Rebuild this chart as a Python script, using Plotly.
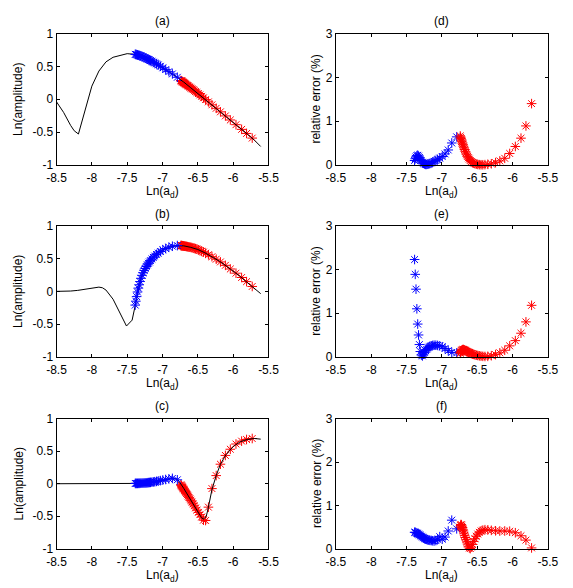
import plotly.graph_objects as go

# ---------------- data ----------------
x_ticks = [-8.5, -8, -7.5, -7, -6.5, -6, -5.5]
x_tick_text = ["-8.5", "-8", "-7.5", "-7", "-6.5", "-6", "-5.5"]
amp_ticks = [-1, -0.5, 0, 0.5, 1]
amp_tick_text = ["-1", "-0.5", "0", "0.5", "1"]
err_ticks = [0, 1, 2, 3]
err_tick_text = ["0", "1", "2", "3"]
panel_titles = ["(a)", "(b)", "(c)", "(d)", "(e)", "(f)"]
x_label = "Ln(a<sub>d</sub>)"
amp_label = "Ln(amplitude)"
err_label = "relative error (%)"

# sample positions (blue = first branch, red = second branch)
bx = [-7.386, -7.377, -7.366, -7.354, -7.342, -7.33, -7.318, -7.305, -7.29, -7.275,
      -7.26, -7.245, -7.23, -7.215, -7.20, -7.185, -7.17, -7.15, -7.13, -7.11,
      -7.085, -7.06, -7.03, -6.995, -6.955, -6.91, -6.86, -6.79]
rx = [-6.74, -6.735, -6.729, -6.723, -6.717, -6.71, -6.703, -6.695, -6.687, -6.678,
      -6.669, -6.659, -6.648, -6.637, -6.625, -6.612, -6.598, -6.583, -6.567, -6.55,
      -6.532, -6.513, -6.492, -6.47, -6.446, -6.42, -6.39, -6.35, -6.30, -6.24,
      -6.18, -6.11, -6.04, -5.96, -5.88, -5.81, -5.73]

# panel (a)
a_blue = [0.685, 0.683, 0.680, 0.676, 0.672, 0.668, 0.664, 0.659, 0.652, 0.645,
          0.638, 0.630, 0.622, 0.614, 0.606, 0.598, 0.589, 0.578, 0.566, 0.554,
          0.539, 0.523, 0.503, 0.479, 0.452, 0.421, 0.386, 0.335]
a_red = [0.285, 0.281, 0.276, 0.271, 0.267, 0.261, 0.255, 0.249, 0.243, 0.235,
         0.228, 0.220, 0.211, 0.203, 0.193, 0.183, 0.171, 0.159, 0.147, 0.133,
         0.118, 0.103, 0.086, 0.066, 0.045, 0.022, -0.005, -0.040, -0.085, -0.138,
         -0.192, -0.254, -0.316, -0.388, -0.459, -0.521, -0.592]
a_line_x = [-8.5, -8.4, -8.3, -8.25, -8.19, -8.1, -8.0, -7.9, -7.8, -7.7, -7.6, -7.5,
            -7.4, -7.3, -7.2, -7.1, -7.0, -6.9, -6.8, -6.7, -6.6, -6.5, -6.4, -6.3,
            -6.2, -6.1, -6.0, -5.9, -5.8, -5.7, -5.61]
a_line_y = [-0.04, -0.20, -0.40, -0.48, -0.53, -0.17, 0.20, 0.43, 0.57, 0.64, 0.67, 0.695,
            0.685, 0.66, 0.606, 0.547, 0.483, 0.414, 0.342, 0.262, 0.175, 0.087, 0.008, -0.080,
            -0.169, -0.258, -0.348, -0.438, -0.53, -0.623, -0.72]

# panel (b)
b_blue = [-0.21, -0.15, -0.08, -0.01, 0.05, 0.10, 0.15, 0.20, 0.245, 0.285,
          0.32, 0.35, 0.38, 0.405, 0.43, 0.45, 0.47, 0.495, 0.52, 0.54,
          0.565, 0.585, 0.61, 0.635, 0.655, 0.675, 0.69, 0.70]
b_red = [0.700, 0.700, 0.699, 0.698, 0.697, 0.696, 0.694, 0.693, 0.691, 0.690,
         0.688, 0.686, 0.684, 0.681, 0.679, 0.676, 0.674, 0.669, 0.663, 0.657,
         0.651, 0.645, 0.636, 0.626, 0.614, 0.601, 0.584, 0.560, 0.530, 0.492,
         0.450, 0.398, 0.342, 0.278, 0.212, 0.149, 0.075]
b_line_x = [-8.5, -8.4, -8.3, -8.2, -8.1, -8.0, -7.9, -7.85, -7.8, -7.7, -7.6, -7.51,
            -7.43, -7.386, -7.3, -7.2, -7.1, -7.0, -6.9, -6.8, -6.7, -6.6, -6.5, -6.4,
            -6.3, -6.2, -6.1, -6.0, -5.9, -5.8, -5.7, -5.61]
b_line_y = [0.0, 0.0, 0.005, 0.015, 0.03, 0.05, 0.065, 0.055, 0.02, -0.12, -0.33, -0.53,
            -0.44, -0.21, 0.22, 0.43, 0.55, 0.63, 0.678, 0.698, 0.696, 0.673, 0.64, 0.59,
            0.53, 0.465, 0.39, 0.31, 0.228, 0.135, 0.045, -0.035]

# panel (c)
c_blue = [0.005, 0.005, 0.005, 0.005, 0.006, 0.006, 0.007, 0.008, 0.009, 0.010,
          0.011, 0.012, 0.013, 0.015, 0.017, 0.019, 0.021, 0.024, 0.027, 0.031,
          0.036, 0.041, 0.048, 0.056, 0.065, 0.075, 0.082, 0.06]
c_red = [-0.015, -0.025, -0.035, -0.045, -0.055, -0.067, -0.079, -0.092, -0.105, -0.12,
         -0.135, -0.152, -0.17, -0.19, -0.21, -0.232, -0.256, -0.282, -0.31, -0.34,
         -0.372, -0.405, -0.44, -0.475, -0.51, -0.56, -0.565, -0.36, -0.075, 0.125,
         0.30, 0.435, 0.53, 0.61, 0.655, 0.68, 0.695]
c_line_x = [-8.5, -8.0, -7.5, -7.4, -7.3, -7.2, -7.1, -7.0, -6.9, -6.84, -6.78, -6.74,
            -6.7, -6.6, -6.5, -6.45, -6.42, -6.38, -6.35, -6.3, -6.24, -6.18, -6.1, -6.0,
            -5.9, -5.8, -5.7, -5.61]
c_line_y = [0.0, 0.0, 0.0, 0.0, 0.005, 0.015, 0.03, 0.05, 0.075, 0.085, 0.06, -0.015,
            -0.07, -0.25, -0.43, -0.52, -0.545, -0.50, -0.36, -0.09, 0.125, 0.30, 0.45, 0.57,
            0.645, 0.68, 0.695, 0.685]

# panel (d)
d_blue = [0.10, 0.14, 0.18, 0.21, 0.22, 0.20, 0.17, 0.13, 0.09, 0.06,
          0.035, 0.02, 0.01, 0.01, 0.015, 0.02, 0.03, 0.045, 0.06, 0.08,
          0.10, 0.125, 0.155, 0.19, 0.25, 0.34, 0.50, 0.64]
d_red = [0.66, 0.63, 0.60, 0.57, 0.54, 0.50, 0.47, 0.43, 0.39, 0.35,
         0.31, 0.27, 0.23, 0.195, 0.16, 0.13, 0.10, 0.075, 0.055, 0.04,
         0.027, 0.017, 0.009, 0.004, 0.002, 0.002, 0.005, 0.012, 0.025, 0.05,
         0.09, 0.15, 0.26, 0.42, 0.61, 0.89, 1.40]

# panel (e)
e_blue = [2.23, 1.89, 1.55, 1.10, 0.75, 0.50, 0.28, 0.12, 0.04, 0.02,
          0.06, 0.10, 0.14, 0.17, 0.20, 0.22, 0.24, 0.25, 0.26, 0.265,
          0.265, 0.26, 0.25, 0.23, 0.19, 0.14, 0.10, 0.09]
e_red = [0.08, 0.10, 0.12, 0.14, 0.15, 0.16, 0.165, 0.165, 0.16, 0.155,
         0.145, 0.135, 0.125, 0.115, 0.105, 0.095, 0.085, 0.075, 0.065, 0.055,
         0.045, 0.037, 0.03, 0.022, 0.015, 0.01, 0.007, 0.01, 0.025, 0.05,
         0.09, 0.15, 0.25, 0.37, 0.54, 0.80, 1.18]

# panel (f)
f_blue = [0.38, 0.38, 0.37, 0.36, 0.35, 0.34, 0.32, 0.31, 0.29, 0.27,
          0.255, 0.24, 0.225, 0.215, 0.205, 0.20, 0.195, 0.19, 0.185, 0.18,
          0.19, 0.22, 0.28, 0.22, 0.27, 0.41, 0.66, 0.46]
f_red = [0.50, 0.54, 0.56, 0.55, 0.52, 0.49, 0.45, 0.41, 0.36, 0.31,
         0.26, 0.21, 0.16, 0.11, 0.06, 0.02, 0.005, 0.04, 0.10, 0.17,
         0.23, 0.29, 0.34, 0.38, 0.41, 0.43, 0.44, 0.435, 0.425, 0.415,
         0.41, 0.41, 0.405, 0.37, 0.30, 0.20, 0.02]

# ---------------- figure ----------------
W, H = 573, 588
FONT = "Liberation Sans, Arial, Helvetica, sans-serif"
BLUE = "rgb(0,0,255)"
RED = "rgb(255,0,0)"

col_px = [(48.3, 268.3), (338.3, 558.3)]
row_px = [(27.3, 161.7), (224.3, 358.3), (421.7, 555.0)]


def xdom(c):
    return [col_px[c][0] / W, col_px[c][1] / W]


def ydom(r):
    return [1 - row_px[r][1] / H, 1 - row_px[r][0] / H]


fig = go.Figure()


def star(x, y, color, ax):
    return go.Scatter(x=x, y=y, mode="markers", xaxis="x" + ax, yaxis="y" + ax,
                      cliponaxis=False, showlegend=False, hoverinfo="skip",
                      marker=dict(symbol="asterisk-open", size=8, color=color,
                                  line=dict(color=color, width=1)))


def line(x, y, ax):
    return go.Scatter(x=x, y=y, mode="lines", xaxis="x" + ax, yaxis="y" + ax,
                      showlegend=False, hoverinfo="skip",
                      line=dict(color="black", width=1))


left = [(a_blue, a_red, a_line_x, a_line_y),
        (b_blue, b_red, b_line_x, b_line_y),
        (c_blue, c_red, c_line_x, c_line_y)]
right = [(d_blue, d_red), (e_blue, e_red), (f_blue, f_red)]

for r in range(3):
    ax = str(r + 1)
    by, ry, lx, ly = left[r]
    fig.add_trace(star(rx, ry, RED, ax))
    fig.add_trace(line(lx, ly, ax))
    fig.add_trace(star(bx, by, BLUE, ax))
for r in range(3):
    ax = str(r + 4)
    by, ry = right[r]
    fig.add_trace(star(bx, by, BLUE, ax))
    fig.add_trace(star(rx, ry, RED, ax))

axis_common = dict(showline=True, linecolor="black", linewidth=1, mirror="ticks",
                   ticks="inside", ticklen=3, tickwidth=1, tickcolor="black",
                   showgrid=False, zeroline=False,
                   tickfont=dict(family=FONT, size=12, color="black"))

layout = dict(width=W, height=H, margin=dict(l=0, r=0, t=0, b=0),
              paper_bgcolor="white", plot_bgcolor="white", showlegend=False,
              font=dict(family=FONT, size=12, color="black"))
annotations = []
for i in range(6):
    c = 0 if i < 3 else 1
    r = i % 3
    n = str(i + 1)
    layout["xaxis" + n] = dict(axis_common, domain=xdom(c), anchor="y" + n,
                               range=[-8.5, -5.5], tickvals=x_ticks, ticktext=x_tick_text,
                               ticklabelstandoff=2)
    if c == 0:
        layout["yaxis" + n] = dict(axis_common, domain=ydom(r), anchor="x" + n,
                                   range=[-1, 1], tickvals=amp_ticks, ticktext=amp_tick_text)
    else:
        layout["yaxis" + n] = dict(axis_common, domain=ydom(r), anchor="x" + n,
                                   range=[0, 3], tickvals=err_ticks, ticktext=err_tick_text)
    cx = (col_px[c][0] + col_px[c][1]) / 2
    top, bot = row_px[r]
    annotations.append(dict(text=panel_titles[r + 3 * c], x=cx / W, y=1 - (top - 12.5) / H,
                            xref="paper", yref="paper", showarrow=False,
                            xanchor="center", yanchor="middle",
                            font=dict(family=FONT, size=12, color="black")))
    annotations.append(dict(text=x_label, x=cx / W, y=1 - (bot + 28) / H,
                            xref="paper", yref="paper", showarrow=False,
                            xanchor="center", yanchor="middle",
                            font=dict(family=FONT, size=12, color="black")))
    ylx = 9 if c == 0 else 318
    annotations.append(dict(text=amp_label if c == 0 else err_label,
                            x=ylx / W, y=1 - (top + bot) / 2 / H,
                            xref="paper", yref="paper", showarrow=False, textangle=-90,
                            xanchor="center", yanchor="middle",
                            font=dict(family=FONT, size=12, color="black")))
layout["annotations"] = annotations
fig.update_layout(**layout)

fig.write_html("out.html")
